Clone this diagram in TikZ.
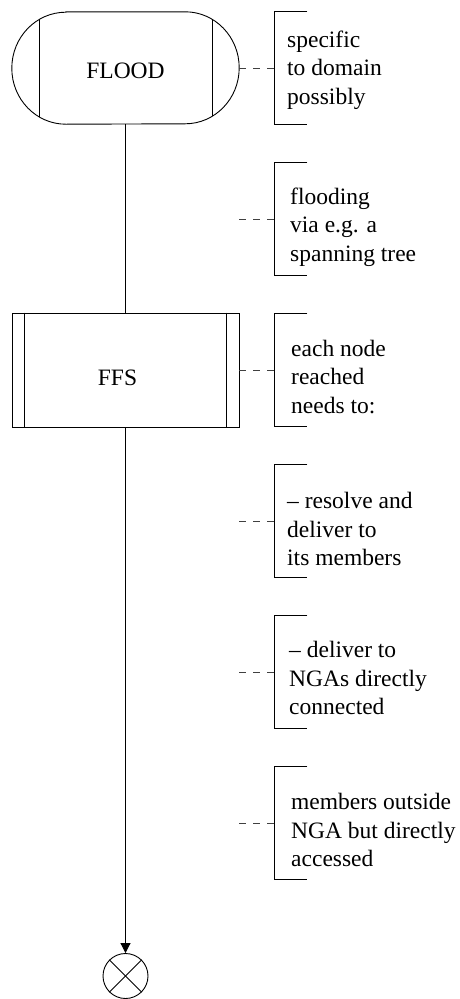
\documentclass[tikz,border=0pt]{standalone}
\usepackage{fontspec}
\setmainfont{Liberation Serif}
\usepackage{tikz}
\usetikzlibrary{arrows.meta,positioning}

\tikzset{
  every node/.style={font=\fontsize{23.5}{28.5}\selectfont},
  flowline/.style={line width=0.9pt},
  termbox/.style={minimum width=227pt,minimum height=112pt,inner sep=0pt},
  procbox/.style={draw,line width=0.9pt,minimum width=227pt,minimum height=114pt,inner sep=0pt},
  stopsign/.style={draw,circle,line width=0.9pt,minimum size=45pt,inner sep=0pt},
  bracketbox/.style={minimum width=33pt,minimum height=112pt,inner sep=0pt,anchor=west},
  note/.style={align=left,inner sep=0pt,anchor=west},
  noteline/.style={line width=0.9pt,black!75,dash pattern=on 7pt off 7pt},
}

\begin{document}
\begin{tikzpicture}[x=1pt,y=-1pt]
\useasboundingbox (0,0) rectangle (460,999);
% start symbol
\node[termbox] (flood) at (125.5,68) {};
\node at ([yshift=-3pt]flood.center) (floodlbl) {FLOOD};
\draw[flowline] ([xshift=54pt]flood.north west) -- ([xshift=-54pt]flood.north east)
  arc[start angle=90,end angle=-90,x radius=54pt,y radius=56pt]
  -- ([xshift=54pt]flood.south west)
  arc[start angle=270,end angle=90,x radius=54pt,y radius=56pt] -- cycle;
\begin{scope}
\clip ([xshift=54pt]flood.north west) -- ([xshift=-54pt]flood.north east)
  arc[start angle=90,end angle=-90,x radius=54pt,y radius=56pt]
  -- ([xshift=54pt]flood.south west)
  arc[start angle=270,end angle=90,x radius=54pt,y radius=56pt] -- cycle;
\draw[flowline] ([xshift=28pt]flood.north west) -- ([xshift=28pt]flood.south west);
\draw[flowline] ([xshift=-27pt]flood.north east) -- ([xshift=-27pt]flood.south east);
\end{scope}
% procedure call
\node[procbox,label={[xshift=-8pt,yshift=-8pt]center:FFS}] (ffs) at (125.5,370) {};
\draw[flowline] ([xshift=13pt]ffs.north west) -- ([xshift=13pt]ffs.south west);
\draw[flowline] ([xshift=-13pt]ffs.north east) -- ([xshift=-13pt]ffs.south east);
% stop
\node[stopsign] (stop) at (125.5,976) {};
\draw[flowline] (stop.45) -- (stop.225);
\draw[flowline] (stop.135) -- (stop.-45);
\draw[flowline] (flood) -- (ffs);
\draw[flowline,-{Triangle[length=10pt,width=10pt]}] (ffs) -- (stop);
% comments
\node[bracketbox] (b1) at (274,68) {};
\node[bracketbox] (b2) at (274,219) {};
\node[bracketbox] (b3) at (274,370) {};
\node[bracketbox] (b4) at (274,521) {};
\node[bracketbox] (b5) at (274,672) {};
\node[bracketbox] (b6) at (274,823) {};
\node[note,right=13pt of b1.west,yshift=-2pt] (n1) {specific\\to domain\\possibly};
\node[note,right=16pt of b2.west,yshift=-8pt] (n2) {flooding\\via e.g. a\\spanning tree};
\node[note,right=17pt of b3.west,yshift=-7pt] (n3) {each node\\reached\\needs to:};
\node[note,right=13pt of b4.west,yshift=-8pt] (n4) {-- resolve and\\deliver to\\its members};
\node[note,right=15pt of b5.west,yshift=-6pt] (n5) {-- deliver to\\NGAs directly\\connected};
\node[note,right=17pt of b6.west,yshift=-7pt] (n6) {members outside\\NGA but directly\\accessed};
\draw[flowline] (b1.north east) -- (b1.north west) -- (b1.south west) -- (b1.south east);
\draw[flowline] (b2.north east) -- (b2.north west) -- (b2.south west) -- (b2.south east);
\draw[flowline] (b3.north east) -- (b3.north west) -- (b3.south west) -- (b3.south east);
\draw[flowline] (b4.north east) -- (b4.north west) -- (b4.south west) -- (b4.south east);
\draw[flowline] (b5.north east) -- (b5.north west) -- (b5.south west) -- (b5.south east);
\draw[flowline] (b6.north east) -- (b6.north west) -- (b6.south west) -- (b6.south east);
\draw[noteline] (flood) -- (b1);
\draw[noteline] (b2.west -| flood.east) -- (b2.west);
\draw[noteline] (ffs) -- (b3);
\draw[noteline] (b4.west -| ffs.east) -- (b4.west);
\draw[noteline] (b5.west -| ffs.east) -- (b5.west);
\draw[noteline] (b6.west -| ffs.east) -- (b6.west);
\end{tikzpicture}
\end{document}
